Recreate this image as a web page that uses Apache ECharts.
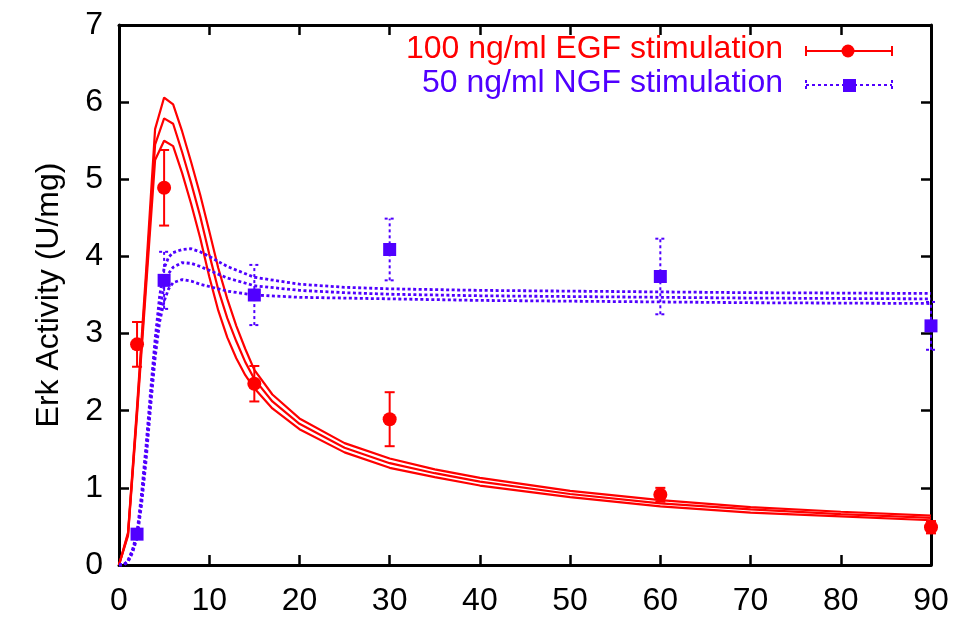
<!DOCTYPE html>
<html>
<head>
<meta charset="utf-8">
<script src="https://cdn.jsdelivr.net/npm/echarts@6/dist/echarts.min.js"></script>
<style>html,body{margin:0;padding:0;background:#fff}#c{width:969px;height:617px}</style>
</head>
<body>
<div id="c"></div>
<script>
// ---- Data ----
const xTicks = [0, 10, 20, 30, 40, 50, 60, 70, 80, 90];
const yTicks = [0, 1, 2, 3, 4, 5, 6, 7];

const egfName = '100 ng/ml EGF stimulation';
const ngfName = '50 ng/ml NGF stimulation';

// measured points (time, value, error)
const egfTimes = [2, 5, 15, 30, 60, 90];
const egfValues = [2.86, 4.89, 2.35, 1.89, 0.91, 0.49];
const egfErrors = [0.29, 0.49, 0.23, 0.35, 0.09, 0.08];

const ngfTimes = [2, 5, 15, 30, 60, 90];
const ngfValues = [0.40, 3.69, 3.50, 4.09, 3.74, 3.10];
const ngfErrors = [0.05, 0.37, 0.39, 0.40, 0.49, 0.31];

// model fit curves (mean, upper, lower)
const egfFitTimes = [0, 1, 2, 3, 4, 5, 6, 7, 8, 9, 10, 11, 12, 13, 14, 15, 17, 20, 25, 30, 35, 40, 50, 60, 70, 80, 90];
const egfFitMid   = [0, 0.40, 2.00, 3.70, 5.45, 5.79, 5.72, 5.35, 4.95, 4.52, 4.03, 3.57, 3.20, 2.90, 2.63, 2.41, 2.12, 1.83, 1.52, 1.32, 1.19, 1.08, 0.92, 0.80, 0.72, 0.66, 0.61];
const egfFitHigh  = [0, 0.42, 2.05, 3.80, 5.65, 6.06, 5.97, 5.62, 5.22, 4.80, 4.33, 3.85, 3.45, 3.10, 2.80, 2.53, 2.21, 1.90, 1.58, 1.38, 1.24, 1.13, 0.96, 0.84, 0.75, 0.69, 0.64];
const egfFitLow   = [0, 0.38, 1.95, 3.60, 5.25, 5.50, 5.43, 5.08, 4.68, 4.24, 3.74, 3.30, 2.95, 2.68, 2.46, 2.29, 2.03, 1.76, 1.46, 1.26, 1.14, 1.03, 0.88, 0.76, 0.68, 0.63, 0.58];

const ngfFitTimes = [0, 0.5, 1, 1.5, 2, 2.5, 3, 3.5, 4, 4.5, 5, 5.5, 6, 7, 8, 9, 10, 12, 15, 20, 25, 30, 40, 50, 60, 70, 80, 90];
const ngfFitMid   = [0, 0.00, 0.05, 0.18, 0.38, 0.85, 1.45, 2.15, 2.80, 3.30, 3.62, 3.78, 3.86, 3.92, 3.91, 3.87, 3.82, 3.72, 3.62, 3.56, 3.53, 3.51, 3.49, 3.48, 3.47, 3.46, 3.455, 3.45];
const ngfFitHigh  = [0, 0.00, 0.06, 0.20, 0.42, 0.92, 1.55, 2.25, 2.92, 3.48, 3.85, 3.99, 4.05, 4.09, 4.10, 4.06, 4.00, 3.87, 3.73, 3.64, 3.60, 3.58, 3.56, 3.55, 3.54, 3.53, 3.525, 3.52];
const ngfFitLow   = [0, 0.00, 0.04, 0.16, 0.35, 0.78, 1.35, 2.05, 2.68, 3.15, 3.42, 3.58, 3.66, 3.70, 3.68, 3.64, 3.61, 3.55, 3.50, 3.47, 3.46, 3.45, 3.43, 3.42, 3.41, 3.40, 3.395, 3.39];

// ---- Styles ----
const RED = '#ff0000';
const BLUE = '#5000ff';
const FONT = 'Liberation Sans, Arial, Helvetica, sans-serif';

const zip = (xs, ys) => xs.map((x, i) => [x, ys[i]]);
const errData = (xs, ys, es) => xs.map((x, i) => [x, ys[i] - es[i], ys[i] + es[i]]);

function errRender(color, dash) {
  return function (params, api) {
    const x = api.value(0), lo = api.value(1), hi = api.value(2);
    const a = api.coord([x, lo]), b = api.coord([x, hi]);
    const hw = 5;
    const style = { stroke: color, lineWidth: 2, lineDash: dash, fill: null };
    return {
      type: 'group',
      children: [
        { type: 'line', shape: { x1: a[0], y1: a[1], x2: b[0], y2: b[1] }, style: style },
        { type: 'line', shape: { x1: a[0] - hw, y1: a[1], x2: a[0] + hw, y2: a[1] }, style: style },
        { type: 'line', shape: { x1: b[0] - hw, y1: b[1], x2: b[0] + hw, y2: b[1] }, style: style }
      ]
    };
  };
}

function fitLine(data, color, type, width) {
  return {
    type: 'line', data: data, showSymbol: false, symbol: 'none', silent: true,
    lineStyle: { color: color, width: width, type: type, opacity: 1 }, animation: false, z: 2
  };
}

const axisCommon = {
  type: 'value',
  axisLine: { show: true, onZero: false, lineStyle: { color: '#000', width: 3 } },
  axisTick: { show: true, inside: true, length: 10, lineStyle: { color: '#000', width: 2.5 } },
  splitLine: { show: false }
};

const chart = echarts.init(document.getElementById('c'), null, { renderer: 'canvas' });
chart.setOption({
  animation: false,
  backgroundColor: '#fff',
  grid: { left: 119, right: 38, top: 25, bottom: 46, containLabel: false },
  xAxis: [
    Object.assign({}, axisCommon, {
      min: xTicks[0], max: xTicks[xTicks.length - 1], interval: 10, position: 'bottom',
      axisLabel: { color: '#000', fontSize: 32, fontFamily: FONT, margin: 20 }
    }),
    Object.assign({}, axisCommon, {
      min: xTicks[0], max: xTicks[xTicks.length - 1], interval: 10, position: 'top',
      axisLabel: { show: false }
    })
  ],
  yAxis: [
    Object.assign({}, axisCommon, {
      min: yTicks[0], max: yTicks[yTicks.length - 1], interval: 1, position: 'left',
      axisLabel: { color: '#000', fontSize: 32, fontFamily: FONT, margin: 16 },
      name: 'Erk Activity (U/mg)', nameLocation: 'middle', nameGap: 54, nameRotate: 90,
      nameTextStyle: { color: '#000', fontSize: 32, fontFamily: FONT }
    }),
    Object.assign({}, axisCommon, {
      min: yTicks[0], max: yTicks[yTicks.length - 1], interval: 1, position: 'right',
      axisLabel: { show: false }
    })
  ],
  series: [
    fitLine(zip(egfFitTimes, egfFitHigh), RED, 'solid', 2.2),
    fitLine(zip(egfFitTimes, egfFitMid), RED, 'solid', 2.2),
    fitLine(zip(egfFitTimes, egfFitLow), RED, 'solid', 2.2),
    {
      type: 'custom', name: egfName, renderItem: errRender(RED, null),
      data: errData(egfTimes, egfValues, egfErrors), clip: false, z: 3,
      encode: { x: 0, y: [1, 2] }
    },
    {
      type: 'scatter', name: egfName, data: zip(egfTimes, egfValues), symbol: 'circle', symbolSize: 14,
      itemStyle: { color: RED, opacity: 1 }, clip: false, z: 4
    },
    fitLine(zip(ngfFitTimes, ngfFitHigh), BLUE, [3, 2.5], 2.8),
    fitLine(zip(ngfFitTimes, ngfFitMid), BLUE, [3, 2.5], 2.8),
    fitLine(zip(ngfFitTimes, ngfFitLow), BLUE, [3, 2.5], 2.8),
    {
      type: 'custom', name: ngfName, renderItem: errRender(BLUE, [3, 3]),
      data: errData(ngfTimes, ngfValues, ngfErrors), clip: false, z: 3,
      encode: { x: 0, y: [1, 2] }
    },
    {
      type: 'scatter', name: ngfName, data: zip(ngfTimes, ngfValues), symbol: 'rect', symbolSize: 13,
      itemStyle: { color: BLUE, opacity: 1 }, clip: false, z: 4
    }
  ],
  graphic: [
    { type: 'text', right: 969 - 783, top: 51 - 18, style: { text: egfName, fill: RED, font: '32px ' + FONT, textAlign: 'right' } },
    { type: 'text', right: 969 - 783, top: 85 - 18, style: { text: ngfName, fill: BLUE, font: '32px ' + FONT, textAlign: 'right' } },
    { type: 'line', shape: { x1: 806, y1: 51, x2: 892, y2: 51 }, style: { stroke: RED, lineWidth: 2 } },
    { type: 'line', shape: { x1: 806, y1: 46, x2: 806, y2: 56 }, style: { stroke: RED, lineWidth: 2 } },
    { type: 'line', shape: { x1: 892, y1: 46, x2: 892, y2: 56 }, style: { stroke: RED, lineWidth: 2 } },
    { type: 'circle', shape: { cx: 848, cy: 51, r: 6.5 }, style: { fill: RED } },
    { type: 'line', shape: { x1: 806, y1: 85, x2: 892, y2: 85 }, style: { stroke: BLUE, lineWidth: 2, lineDash: [3, 3] } },
    { type: 'line', shape: { x1: 806, y1: 80, x2: 806, y2: 90 }, style: { stroke: BLUE, lineWidth: 2, lineDash: [3, 3] } },
    { type: 'line', shape: { x1: 892, y1: 80, x2: 892, y2: 90 }, style: { stroke: BLUE, lineWidth: 2, lineDash: [3, 3] } },
    { type: 'rect', shape: { x: 843, y: 79, width: 13, height: 13 }, style: { fill: BLUE } }
  ]
});
</script>
</body>
</html>
